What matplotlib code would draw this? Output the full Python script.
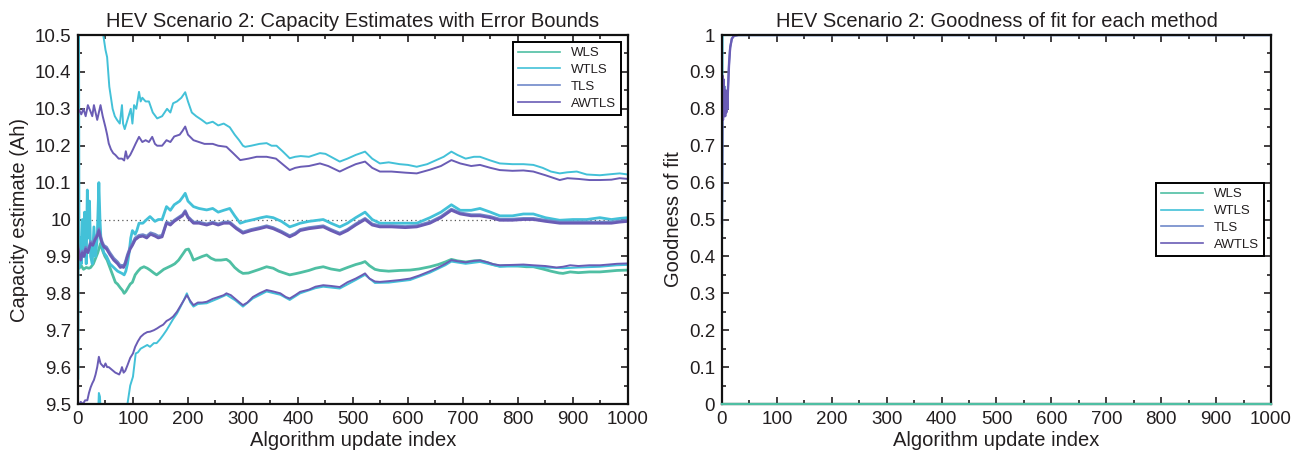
import matplotlib
matplotlib.use("Agg")
import matplotlib.pyplot as plt
from matplotlib.ticker import MultipleLocator, FuncFormatter

# ---- capacity estimates (index, value) ----
wls_idx = [0, 2, 6, 10, 15, 20, 23, 28, 32, 36, 41, 45, 49, 53, 58, 63, 68, 72, 77, 81, 84, 87, 91, 95,
           99, 104, 109, 114, 120, 126, 131, 138, 143, 150, 156, 163, 170, 176, 183, 190, 196, 201, 206,
           210, 218, 226, 234, 242, 250, 260, 270, 276, 285, 293, 300, 310, 320, 330, 343, 355, 365, 375,
           385, 395, 404, 420, 432, 446, 460, 476, 490, 505, 515, 522, 530, 540, 549, 565, 585, 604, 620,
           640, 655, 668, 679, 690, 705, 720, 731, 745, 755, 767, 780, 800, 815, 828, 845, 860, 875, 882,
           895, 910, 930, 949, 965, 980, 1000]
wls_val = [9.87, 9.868, 9.875, 9.865, 9.87, 9.868, 9.87, 9.88, 9.895, 9.91, 9.935, 9.915, 9.9, 9.89,
           9.87, 9.85, 9.83, 9.825, 9.815, 9.808, 9.8, 9.805, 9.815, 9.825, 9.83, 9.85, 9.86, 9.868,
           9.872, 9.868, 9.863, 9.855, 9.85, 9.858, 9.865, 9.87, 9.875, 9.88, 9.89, 9.905, 9.918, 9.92,
           9.905, 9.89, 9.895, 9.9, 9.904, 9.895, 9.89, 9.89, 9.892, 9.886, 9.87, 9.86, 9.854, 9.855,
           9.86, 9.865, 9.872, 9.868, 9.86, 9.855, 9.85, 9.853, 9.856, 9.862, 9.868, 9.872, 9.866, 9.862,
           9.87, 9.878, 9.882, 9.886, 9.875, 9.865, 9.862, 9.86, 9.862, 9.863, 9.866, 9.872, 9.878, 9.885,
           9.892, 9.888, 9.885, 9.888, 9.889, 9.883, 9.878, 9.874, 9.875, 9.874, 9.872, 9.872, 9.866,
           9.86, 9.855, 9.854, 9.858, 9.856, 9.858, 9.858, 9.86, 9.862, 9.863]

wtls_idx = [0, 1, 2, 4, 6, 8, 10, 12, 15, 17, 19, 21, 23, 26, 29, 32, 35, 38, 40, 42, 47, 52, 58, 65,
            72, 80, 84, 87, 90, 93, 96, 99, 104, 107, 111, 118, 125, 131, 140, 146, 153, 161, 168, 175,
            185, 190, 195, 200, 210, 220, 234, 245, 255, 265, 276, 285, 295, 305, 320, 333, 343, 355, 370,
            385, 395, 404, 420, 446, 460, 476, 490, 505, 522, 535, 549, 570, 595, 616, 640, 660, 679, 695,
            715, 731, 750, 767, 790, 810, 828, 850, 876, 900, 925, 949, 970, 985, 1000]
wtls_val = [9.57, 10.6, 9.87, 9.95, 9.88, 10.0, 9.9, 10.02, 9.88, 10.08, 9.95, 10.05, 9.9, 9.88, 9.98,
            9.9, 9.95, 10.1, 10.0, 9.94, 9.91, 9.9, 9.88, 9.87, 9.86, 9.854, 9.85, 9.86, 9.88, 9.91,
            9.95, 9.97, 9.96, 9.97, 9.99, 9.99, 10.0, 10.008, 9.995, 10.0, 10.0, 10.035, 10.025, 10.04,
            10.05, 10.06, 10.071, 10.05, 10.035, 10.03, 10.026, 10.03, 10.02, 10.025, 10.03, 10.01, 9.99,
            9.995, 10.0, 10.005, 10.008, 10.005, 9.995, 9.98, 9.985, 9.99, 9.995, 10.0, 9.99, 9.98, 9.99,
            10.005, 10.02, 10.0, 9.99, 9.99, 9.99, 9.99, 10.005, 10.02, 10.04, 10.025, 10.025, 10.03,
            10.02, 10.01, 10.01, 10.015, 10.015, 10.005, 9.998, 10.0, 10.0, 10.005, 10.0, 10.003, 10.005]

wtls_up_idx = [0, 44, 47, 50, 53, 55, 57, 60, 63, 67, 71, 76, 80, 82, 85, 88, 92, 96, 99, 102, 106, 111,
               114, 117, 123, 129, 136, 144, 153, 162, 168, 173, 180, 188, 195, 200, 207, 215, 225, 234,
               245, 255, 265, 276, 285, 293, 300, 304, 315, 330, 343, 352, 361, 372, 385, 395, 405, 420,
               440, 450, 460, 476, 490, 505, 522, 535, 549, 565, 585, 600, 616, 635, 650, 665, 679, 690,
               705, 720, 731, 750, 767, 790, 810, 828, 845, 860, 876, 890, 907, 925, 949, 970, 985, 1000]
wtls_up_val = [11.0, 10.52, 10.49, 10.46, 10.44, 10.40, 10.36, 10.33, 10.30, 10.28, 10.27, 10.26, 10.31,
               10.26, 10.245, 10.26, 10.28, 10.30, 10.26, 10.31, 10.30, 10.346, 10.32, 10.33, 10.32,
               10.32, 10.29, 10.274, 10.28, 10.30, 10.29, 10.315, 10.32, 10.33, 10.345, 10.32, 10.29,
               10.28, 10.27, 10.26, 10.265, 10.255, 10.26, 10.25, 10.23, 10.215, 10.20, 10.197, 10.20,
               10.205, 10.207, 10.20, 10.20, 10.185, 10.166, 10.17, 10.172, 10.17, 10.18, 10.178, 10.17,
               10.157, 10.165, 10.175, 10.184, 10.165, 10.152, 10.155, 10.15, 10.148, 10.143, 10.15,
               10.16, 10.17, 10.184, 10.175, 10.165, 10.17, 10.17, 10.16, 10.152, 10.15, 10.15, 10.148,
               10.14, 10.13, 10.125, 10.128, 10.13, 10.122, 10.12, 10.123, 10.125, 10.122]

wtls_lo_idx = [0, 36, 38, 40, 42, 88, 90, 95, 100, 105, 109, 114, 120, 126, 131, 138, 143, 149, 155, 161,
               167, 173, 180, 186, 192, 198, 204, 210, 218, 234, 255, 270, 286, 300, 318, 343, 368, 385,
               404, 432, 446, 476, 505, 522, 540, 565, 604, 640, 668, 679, 705, 731, 767, 810, 850, 882,
               910, 949, 980, 1000]
wtls_lo_val = [9.3, 9.45, 9.53, 9.52, 9.45, 9.45, 9.5, 9.55, 9.574, 9.637, 9.64, 9.65, 9.655, 9.66, 9.655,
               9.665, 9.665, 9.675, 9.687, 9.70, 9.715, 9.73, 9.745, 9.762, 9.78, 9.8, 9.776, 9.764,
               9.771, 9.773, 9.786, 9.796, 9.781, 9.764, 9.786, 9.805, 9.796, 9.782, 9.8, 9.814, 9.818,
               9.813, 9.836, 9.85, 9.828, 9.829, 9.836, 9.856, 9.876, 9.886, 9.88, 9.885, 9.872, 9.874,
               9.87, 9.868, 9.87, 9.872, 9.876, 9.877]

tls_idx = [0, 2, 5, 8, 11, 14, 18, 23, 27, 31, 35, 38, 41, 44, 47, 52, 58, 65, 72, 77, 80, 83, 86, 90,
           95, 99, 104, 111, 118, 125, 132, 140, 146, 153, 161, 168, 175, 185, 190, 195, 200, 210, 220,
           234, 245, 255, 265, 276, 288, 300, 315, 330, 343, 355, 370, 385, 395, 404, 420, 446, 460, 476,
           490, 505, 522, 535, 549, 570, 595, 616, 640, 660, 679, 695, 715, 731, 750, 767, 790, 810, 828,
           850, 876, 900, 925, 949, 970, 985, 1000]
tls_val = [9.93, 9.91, 9.895, 9.915, 9.905, 9.925, 9.915, 9.94, 9.935, 9.95, 9.96, 9.975, 9.955, 9.94,
           9.93, 9.925, 9.91, 9.895, 9.885, 9.875, 9.876, 9.874, 9.884, 9.905, 9.925, 9.935, 9.95, 9.957,
           9.959, 9.955, 9.964, 9.96, 9.955, 9.957, 9.993, 9.989, 9.998, 10.008, 10.013, 10.024, 10.008,
           9.993, 9.993, 9.988, 9.993, 9.988, 9.993, 9.993, 9.978, 9.966, 9.973, 9.978, 9.983, 9.978,
           9.968, 9.956, 9.963, 9.973, 9.978, 9.983, 9.973, 9.963, 9.973, 9.988, 10.003, 9.988, 9.983,
           9.983, 9.981, 9.983, 9.993, 10.008, 10.028, 10.018, 10.013, 10.013, 10.008, 10.001, 10.001,
           10.003, 10.003, 9.998, 9.993, 9.993, 9.993, 9.993, 9.993, 9.996, 9.998]

awtls_idx = tls_idx
awtls_val = [9.92, 9.908, 9.89, 9.91, 9.90, 9.92, 9.91, 9.935, 9.93, 9.945, 9.955, 9.97, 9.95, 9.935,
             9.926, 9.92, 9.905, 9.89, 9.88, 9.87, 9.872, 9.87, 9.88, 9.9, 9.92, 9.93, 9.945, 9.953,
             9.955, 9.95, 9.96, 9.955, 9.95, 9.953, 9.99, 9.985, 9.995, 10.005, 10.01, 10.021, 10.005,
             9.99, 9.99, 9.985, 9.99, 9.985, 9.99, 9.99, 9.975, 9.963, 9.97, 9.975, 9.98, 9.975, 9.965,
             9.953, 9.96, 9.97, 9.975, 9.98, 9.97, 9.96, 9.97, 9.985, 10.0, 9.985, 9.98, 9.98, 9.978,
             9.98, 9.99, 10.005, 10.025, 10.015, 10.01, 10.01, 10.005, 9.998, 9.998, 10.0, 10.0, 9.995,
             9.99, 9.99, 9.99, 9.99, 9.99, 9.993, 9.995]

awtls_up_idx = [0, 2, 6, 10, 14, 18, 23, 26, 29, 32, 35, 38, 41, 45, 50, 53, 56, 60, 64, 68, 74, 80, 84,
                87, 90, 95, 100, 105, 111, 117, 123, 129, 135, 140, 144, 153, 161, 168, 175, 185, 190, 195,
                200, 210, 220, 230, 245, 255, 270, 282, 295, 310, 325, 343, 360, 372, 385, 395, 405, 420,
                440, 455, 476, 490, 505, 522, 535, 549, 570, 595, 616, 640, 660, 679, 695, 715, 731, 750,
                767, 790, 810, 828, 850, 876, 890, 910, 930, 949, 970, 985, 1000]
awtls_up_val = [10.29, 10.297, 10.285, 10.30, 10.28, 10.31, 10.292, 10.28, 10.31, 10.29, 10.27, 10.29,
                10.31, 10.28, 10.25, 10.23, 10.206, 10.19, 10.18, 10.175, 10.165, 10.165, 10.16, 10.185,
                10.165, 10.175, 10.19, 10.206, 10.224, 10.21, 10.215, 10.21, 10.224, 10.205, 10.2, 10.2,
                10.215, 10.21, 10.225, 10.23, 10.24, 10.252, 10.23, 10.215, 10.21, 10.205, 10.205, 10.20,
                10.197, 10.18, 10.161, 10.165, 10.17, 10.17, 10.165, 10.15, 10.134, 10.14, 10.143, 10.145,
                10.152, 10.145, 10.13, 10.14, 10.15, 10.157, 10.14, 10.13, 10.13, 10.127, 10.125, 10.135,
                10.145, 10.161, 10.152, 10.145, 10.148, 10.14, 10.134, 10.132, 10.133, 10.13, 10.12,
                10.107, 10.112, 10.11, 10.107, 10.107, 10.108, 10.112, 10.11]

awtls_lo_idx = [0, 3, 5, 9, 13, 17, 20, 23, 26, 29, 32, 35, 38, 41, 44, 47, 50, 53, 56, 60, 64, 68, 71, 75,
                78, 80, 83, 86, 90, 95, 100, 104, 109, 114, 120, 126, 131, 138, 144, 149, 155, 161, 167,
                173, 180, 186, 192, 198, 204, 210, 218, 226, 234, 245, 255, 265, 270, 278, 286, 294, 300,
                308, 318, 330, 343, 355, 368, 378, 385, 395, 404, 420, 432, 446, 460, 476, 490, 505, 515,
                522, 530, 540, 549, 565, 585, 604, 620, 640, 655, 668, 679, 690, 705, 720, 731, 745, 755,
                767, 790, 810, 828, 850, 870, 882, 895, 910, 930, 949, 965, 980, 1000]
awtls_lo_val = [9.45, 9.50, 9.506, 9.50, 9.51, 9.51, 9.53, 9.545, 9.556, 9.565, 9.58, 9.60, 9.628, 9.61,
                9.605, 9.6, 9.61, 9.60, 9.6, 9.595, 9.59, 9.585, 9.583, 9.58, 9.59, 9.6, 9.585, 9.59,
                9.605, 9.625, 9.637, 9.655, 9.67, 9.682, 9.69, 9.695, 9.696, 9.7, 9.705, 9.71, 9.715,
                9.725, 9.73, 9.737, 9.75, 9.765, 9.78, 9.795, 9.78, 9.768, 9.775, 9.775, 9.777, 9.785,
                9.79, 9.795, 9.8, 9.795, 9.785, 9.775, 9.768, 9.775, 9.79, 9.8, 9.809, 9.805, 9.8, 9.79,
                9.786, 9.795, 9.804, 9.81, 9.818, 9.822, 9.82, 9.817, 9.83, 9.84, 9.848, 9.854, 9.84,
                9.832, 9.831, 9.833, 9.836, 9.84, 9.848, 9.86, 9.87, 9.88, 9.89, 9.887, 9.884, 9.888,
                9.889, 9.884, 9.879, 9.876, 9.877, 9.878, 9.876, 9.874, 9.87, 9.872, 9.876, 9.874, 9.876,
                9.876, 9.878, 9.88, 9.881]

# ---- goodness of fit ----
wls_gof_idx = [0, 1000]
wls_gof_val = [0.0, 0.0]
wtls_gof_idx = [0, 1, 1000]
wtls_gof_val = [0.45, 1.0, 1.0]
tls_gof_idx = [0, 1, 2, 3, 4, 5, 6, 7, 8, 9, 10, 11, 13, 15, 18, 22, 30, 1000]
tls_gof_val = [0.49, 0.88, 0.78, 0.87, 0.78, 0.86, 0.79, 0.84, 0.80, 0.82, 0.80, 0.86, 0.93, 0.968,
               0.99, 0.998, 1.0, 1.0]
awtls_gof_idx = [0, 1, 2, 3, 4, 5, 6, 7, 8, 9, 10, 11, 13, 15, 18, 22, 30, 1000]
awtls_gof_val = [0.48, 0.89, 0.77, 0.88, 0.78, 0.85, 0.78, 0.85, 0.79, 0.83, 0.80, 0.85, 0.92, 0.965,
                 0.99, 0.998, 1.0, 1.0]

labels = ["WLS", "WTLS", "TLS", "AWTLS"]
c_wls = "#4fbfa3"
c_wtls = "#43c1d8"
c_tls = "#7089c9"
c_awtls = "#6a5cb5"
txt = "#231f20"

plt.rcParams.update({"font.family": ["Liberation Sans", "DejaVu Sans"], "font.size": 13.5,
                     "text.color": txt, "axes.labelcolor": txt,
                     "xtick.color": txt, "ytick.color": txt})

fig = plt.figure(figsize=(13.06, 4.62), dpi=100)
ax1 = fig.add_axes([0.0597, 0.1255, 0.4211, 0.7987])
ax2 = fig.add_axes([0.5528, 0.1255, 0.4204, 0.7987])

g = lambda v, p: "%g" % v

def style(ax):
    for s in ax.spines.values():
        s.set_linewidth(1.6)
        s.set_color("#111111")
    ax.set_xlim(0, 1000)
    ax.xaxis.set_major_locator(MultipleLocator(100))
    ax.xaxis.set_minor_locator(MultipleLocator(50))
    ax.tick_params(which="both", direction="in", top=True, right=True, labelsize=13.5, width=1.2, pad=5)
    ax.tick_params(which="major", length=5)
    ax.tick_params(which="minor", length=3)
    ax.yaxis.set_major_formatter(FuncFormatter(g))
    ax.set_xlabel("Algorithm update index", fontsize=14.5, labelpad=2)

def add_legend(ax, loc):
    leg = ax.legend(loc=loc, fontsize=9.5, handlelength=3.2, borderaxespad=0.5,
                    fancybox=False, framealpha=1, edgecolor="black", labelspacing=0.35)
    leg.get_frame().set_linewidth(1.4)
    for h in leg.get_lines():
        h.set_linewidth(1.2)

# left panel
lw_b, lw_e = 1.4, 2.0
ax1.plot(wls_idx, wls_val, color=c_wls, lw=lw_e, label=labels[0])
ax1.plot(wtls_idx, wtls_val, color=c_wtls, lw=lw_e, label=labels[1])
ax1.plot(tls_idx, tls_val, color=c_tls, lw=lw_e, label=labels[2])
ax1.plot(awtls_idx, awtls_val, color=c_awtls, lw=lw_e, label=labels[3])
ax1.plot(wtls_up_idx, wtls_up_val, color=c_wtls, lw=lw_b)
ax1.plot(wtls_lo_idx, wtls_lo_val, color=c_wtls, lw=lw_b)
ax1.plot(awtls_up_idx, awtls_up_val, color=c_awtls, lw=lw_b)
ax1.plot(awtls_lo_idx, awtls_lo_val, color=c_awtls, lw=lw_b)
ax1.axhline(10.0, color="#555555", lw=0.9, ls=(0, (1, 2.5)), zorder=0)
ax1.set_ylim(9.5, 10.5)
ax1.yaxis.set_major_locator(MultipleLocator(0.1))
ax1.yaxis.set_minor_locator(MultipleLocator(0.05))
style(ax1)
ax1.set_ylabel("Capacity estimate (Ah)", fontsize=14.5, labelpad=4)
ax1.set_title("HEV Scenario 2: Capacity Estimates with Error Bounds", fontsize=14.5, pad=6)
add_legend(ax1, "upper right")

# right panel
ax2.plot(wls_gof_idx, wls_gof_val, color=c_wls, lw=1.6, label=labels[0], zorder=3, clip_on=False)
ax2.plot(wtls_gof_idx, wtls_gof_val, color=c_wtls, lw=1.6, label=labels[1])
ax2.plot(tls_gof_idx, tls_gof_val, color=c_tls, lw=1.6, label=labels[2], clip_on=False)
ax2.plot(awtls_gof_idx, awtls_gof_val, color=c_awtls, lw=1.6, label=labels[3])
ax2.set_ylim(0, 1)
ax2.yaxis.set_major_locator(MultipleLocator(0.1))
ax2.yaxis.set_minor_locator(MultipleLocator(0.05))
style(ax2)
ax2.set_ylabel("Goodness of fit", fontsize=14.5, labelpad=4)
ax2.set_title("HEV Scenario 2: Goodness of fit for each method", fontsize=14.5, pad=6)
add_legend(ax2, "center right")

fig.savefig("out.png", dpi=100)
